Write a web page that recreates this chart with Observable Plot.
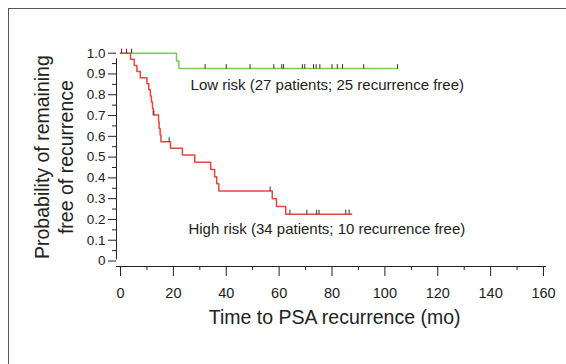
<!DOCTYPE html>
<html><head><meta charset="utf-8">
<script src="https://cdn.jsdelivr.net/npm/d3@7"></script>
<script src="https://cdn.jsdelivr.net/npm/@observablehq/plot@0.6"></script>
<style>
body{margin:0;background:#fff;overflow:hidden;}
#frame{position:absolute;left:8px;top:8px;width:640px;height:440px;border:1.5px solid #555;box-sizing:border-box;}
#chart{position:absolute;left:0;top:0;}
</style></head>
<body>
<div id="frame"></div>
<div id="chart"></div>
<script>
// Low risk (green) step curve
const lowTimes = [0, 21.2, 22.1, 104.8];
const lowSurv  = [1.0, 0.963, 0.926, 0.926];
const lowCensorTimes = [0.4, 2.3, 4.2, 32, 40, 49, 58, 61, 61.7, 68.8, 69.7, 73, 74, 75.4, 80, 82, 84, 92, 104.8];
const lowCensorSurv  = [1, 1, 1, 0.926, 0.926, 0.926, 0.926, 0.926, 0.926, 0.926, 0.926, 0.926, 0.926, 0.926, 0.926, 0.926, 0.926, 0.926, 0.926];

// High risk (red) step curve
const highTimes = [0, 3.8, 5.2, 6.2, 7.5, 10.0, 10.7, 11.3, 11.7, 12.1, 12.4, 14.4, 14.6, 15.0, 15.3, 18.9, 23.4, 28.1, 34.1, 35.6, 36.4, 37.2, 57.4, 59.0, 62.5, 87.4];
const highSurv  = [1.0, 0.971, 0.941, 0.912, 0.882, 0.853, 0.824, 0.794, 0.765, 0.735, 0.703, 0.67, 0.638, 0.606, 0.574, 0.542, 0.51, 0.475, 0.44, 0.405, 0.372, 0.337, 0.3, 0.262, 0.225, 0.225];
const highCensorTimes = [12.6, 18.4, 56.6, 64.1, 70.5, 74.2, 75.1, 85.2, 86.5];
const highCensorSurv  = [0.703, 0.574, 0.337, 0.225, 0.225, 0.225, 0.225, 0.225, 0.225];

const groups = ["Low risk", "High risk"];
const groupColors = ["#7cc95a", "#e8463e"];
const groupLabels = ["Low risk (27 patients; 25 recurrence free)", "High risk (34 patients; 10 recurrence free)"];

const yMajor = [0, 0.1, 0.2, 0.3, 0.4, 0.5, 0.6, 0.7, 0.8, 0.9, 1.0];
const yLabels = ["0", "0.1", "0.2", "0.3", "0.4", "0.5", "0.6", "0.7", "0.8", "0.9", "1.0"];
const yMinor = [0.05, 0.15, 0.25, 0.35, 0.45, 0.55, 0.65, 0.75, 0.85, 0.95];
const xMajor = [0, 20, 40, 60, 80, 100, 120, 140, 160];
const xLabels = ["0", "20", "40", "60", "80", "100", "120", "140", "160"];
const xMinor = [10, 30, 50, 70, 90, 110, 130, 150];

const curve = [
  ...lowTimes.map((t, i) => ({t, s: lowSurv[i], g: groups[0]})),
  ...highTimes.map((t, i) => ({t, s: highSurv[i], g: groups[1]}))
];
const censors = [
  ...lowCensorTimes.map((t, i) => ({t, s: lowCensorSurv[i]})),
  ...highCensorTimes.map((t, i) => ({t, s: highCensorSurv[i]}))
];

const font = "'Liberation Sans', Arial, Helvetica, sans-serif";
const AX = -4;   // y axis line offset (px)
const AY = 5.5;  // x axis line offset (px)

const chart = Plot.plot({
  width: 566, height: 364,
  marginLeft: 120, marginRight: 23, marginTop: 52.7, marginBottom: 103.5,
  style: {fontFamily: font, background: "transparent", overflow: "visible"},
  x: {domain: [0, 160], axis: null},
  y: {domain: [0, 1], axis: null},
  color: {domain: groups, range: groupColors},
  marks: [
    // y axis
    Plot.ruleX([0], {y1: 0, y2: 1, dx: AX, insetBottom: -AY, insetTop: -1, stroke: "#222", strokeWidth: 1}),
    Plot.ruleY(yMajor, {y: d => d, x1: 0, x2: 0, dx: AX, insetLeft: -8, stroke: "#222", strokeWidth: 1}),
    Plot.ruleY(yMinor, {y: d => d, x1: 0, x2: 0, dx: AX, insetLeft: -4, stroke: "#222", strokeWidth: 1}),
    Plot.text(yMajor, {x: 0, y: d => d, text: (d, i) => yLabels[i], textAnchor: "end", dx: AX - 11, fontSize: 13.5, fill: "#222"}),
    // x axis
    Plot.ruleY([0], {x1: 0, x2: 160, dy: AY, insetLeft: AX, insetRight: -3, stroke: "#222", strokeWidth: 1}),
    Plot.ruleX(xMajor, {x: d => d, y1: 0, y2: 0, dy: AY, insetBottom: -10, stroke: "#222", strokeWidth: 1}),
    Plot.ruleX(xMinor, {x: d => d, y1: 0, y2: 0, dy: AY, insetBottom: -4, stroke: "#222", strokeWidth: 1}),
    Plot.text(xMajor, {x: d => d, y: 0, text: (d, i) => xLabels[i], dy: AY + 27, fontSize: 14.5, fill: "#222"}),
    // curves
    Plot.line(curve, {x: "t", y: "s", z: "g", stroke: "g", curve: "step-after", strokeWidth: 1.5}),
    // censor marks
    Plot.ruleX(censors, {x: "t", y1: "s", y2: "s", insetTop: -4, insetBottom: -0.5, stroke: "#333", strokeWidth: 1}),
    // annotations
    Plot.text([groupLabels[0]], {x: 26.5, y: 0.845, text: d => d, textAnchor: "start", fontSize: 15, fill: "#222"}),
    Plot.text([groupLabels[1]], {x: 25.7, y: 0.152, text: d => d, textAnchor: "start", fontSize: 15, fill: "#222"}),
    // axis titles
    Plot.text(["Probability of remaining"], {x: -29.5, y: 0.5, text: d => d, rotate: -90, fontSize: 19.5, fill: "#222"}),
    Plot.text(["free of recurrence"], {x: -20.4, y: 0.5, text: d => d, rotate: -90, fontSize: 19.5, fill: "#222"}),
    Plot.text(["Time to PSA recurrence (mo)"], {x: 81, y: -0.275, text: d => d, fontSize: 19.5, fill: "#222"})
  ]
});
document.getElementById("chart").appendChild(chart);
</script>
</body></html>
